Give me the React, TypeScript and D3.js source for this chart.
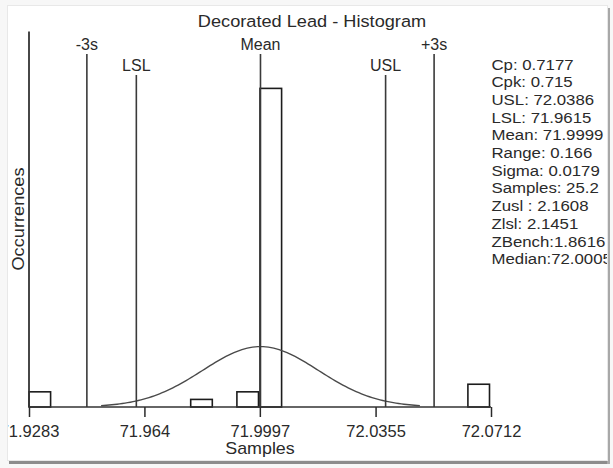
import React, { useEffect, useRef } from 'react';
import { axisBottom, line, range, scaleLinear, select, ScaleLinear } from 'd3';

// histogram bins (20 equal bins over the sample range)
const binStart = 71.9283;
const binEnd = 72.0712;
const binCounts = [2, 0, 0, 0, 0, 0, 0, 1, 0, 2, 42, 0, 0, 0, 0, 0, 0, 0, 0, 3];
const countMax = 49.5;

const xTickValues = [71.9283, 71.964, 71.9997, 72.0355, 72.0712];
const xTickLabels = ['71.9283', '71.964', '71.9997', '72.0355', '72.0712'];

const mean = 71.9999;
const sigma = 0.0179;
const sampleCount = 50;
const curveDomain = [71.9506, 72.0492];

const markerLabels = ['-3s', 'LSL', 'Mean', 'USL', '+3s'];
const markerValues = [71.9462, 71.9615, 71.9999, 72.0386, 72.0536];
const markerIsSpec = [false, true, false, true, false];

const statLines = [
  'Cp: 0.7177',
  'Cpk: 0.715',
  'USL: 72.0386',
  'LSL: 71.9615',
  'Mean: 71.9999',
  'Range: 0.166',
  'Sigma: 0.0179',
  'Samples: 25.2',
  'Zusl : 2.1608',
  'Zlsl: 2.1451',
  'ZBench:1.8616',
  'Median:72.0005',
];

const W = 613;
const H = 468;
const FONT = '"Liberation Sans", Arial, sans-serif';
const INK = '#2a2a2a';

interface STextProps {
  x: number;
  y: number;
  size: number;
  sx?: number;
  anchor?: 'start' | 'middle' | 'end';
  rotate?: number;
  children: React.ReactNode;
}

function SText({ x, y, size, sx = 1, anchor = 'start', rotate = 0, children }: STextProps) {
  return (
    <g transform={`translate(${x},${y}) rotate(${rotate}) scale(${sx},1)`}>
      <text textAnchor={anchor} fontSize={size} fontFamily={FONT} fill={INK}>
        {children}
      </text>
    </g>
  );
}

function AxisBottom({ scale, y }: { scale: ScaleLinear<number, number>; y: number }) {
  const ref = useRef<SVGGElement>(null);

  useEffect(() => {
    if (!ref.current) return;
    select(ref.current)
      .call(
        axisBottom(scale)
          .tickValues(xTickValues)
          .tickFormat((_, i) => xTickLabels[i])
          .tickSize(10)
          .tickPadding(8)
      )
      .call((g) => {
        g.select('.domain').remove();
        g.selectAll('.tick line').attr('stroke', INK).attr('stroke-width', 1.5);
        g.selectAll('.tick text')
          .attr('font-size', 16.5)
          .attr('font-family', FONT)
          .attr('fill', INK);
      });
  }, [scale]);

  return <g ref={ref} transform={`translate(0,${y})`} />;
}

export default function App() {
  const x = scaleLinear().domain([binStart, binEnd]).range([29, 491]);
  const y = scaleLinear().domain([0, countMax]).range([407, 31.5]);
  const binW = (binEnd - binStart) / binCounts.length;

  const pdf = (v: number) =>
    (sampleCount * binW * Math.exp(-0.5 * ((v - mean) / sigma) ** 2)) / (sigma * Math.sqrt(2 * Math.PI));
  const curvePts = range(0, 121).map(
    (i) => curveDomain[0] + ((curveDomain[1] - curveDomain[0]) * i) / 120
  );
  const curvePath = line<number>()
    .x((d) => x(d))
    .y((d) => y(pdf(d)))(curvePts);

  return (
    <svg
      width={W}
      height={H}
      style={{ position: 'absolute', left: 0, top: 0, display: 'block' }}
    >
      <defs>
        <clipPath id="panel">
          <rect x={8} y={6} width={599} height={454} />
        </clipPath>
      </defs>
      <rect width={W} height={H} fill="#f7f7f7" />
      <rect x={9} y={460} width={600} height={4} fill="#8c8c8c" />
      <rect x={607} y={8} width={3} height={456} fill="#a8a8a8" />
      <rect x={7.5} y={5.5} width={600} height={455} fill="#fff" stroke="#e8e8e8" />

      <g clipPath="url(#panel)">
        <SText x={312} y={27} size={17} sx={1.07} anchor="middle">
          Decorated Lead - Histogram
        </SText>

        {/* bars */}
        {binCounts.map((c, i) =>
          c > 0 ? (
            <rect
              key={`bin-${i}`}
              x={x(binStart + i * binW)}
              y={y(c)}
              width={x(binStart + (i + 1) * binW) - x(binStart + i * binW) - 1.5}
              height={y(0) - y(c)}
              fill="#fff"
              stroke="#1c1c1c"
              strokeWidth={1.6}
            />
          ) : null
        )}

        {/* fitted normal curve */}
        <path d={curvePath ?? ''} fill="none" stroke="#4a4a4a" strokeWidth={1.4} />

        {/* sigma and spec lines */}
        {markerValues.map((v, i) => {
          const top = markerIsSpec[i] ? 75 : 54;
          return (
            <g key={markerLabels[i]}>
              <line x1={x(v)} x2={x(v)} y1={top} y2={y(0)} stroke="#3a3a3a" strokeWidth={1.6} />
              <SText x={x(v)} y={top - 4.5} size={16} anchor="middle">
                {markerLabels[i]}
              </SText>
            </g>
          );
        })}

        {/* axes */}
        <line x1={x(binStart)} x2={x(binStart)} y1={y(countMax)} y2={y(0)} stroke="#333" strokeWidth={1.8} />
        <line x1={x(binStart)} x2={x(binEnd)} y1={y(0)} y2={y(0)} stroke="#333" strokeWidth={1.6} />
        <AxisBottom scale={x} y={y(0)} />

        <SText x={260} y={454} size={17} sx={1.05} anchor="middle">
          Samples
        </SText>
        <SText x={24} y={219} size={17} sx={1.07} anchor="middle" rotate={-90}>
          Occurrences
        </SText>

        {statLines.map((s, i) => (
          <SText key={s} x={491.5} y={69.5 + i * 17.7} size={15} sx={1.12}>
            {s}
          </SText>
        ))}
      </g>
    </svg>
  );
}
